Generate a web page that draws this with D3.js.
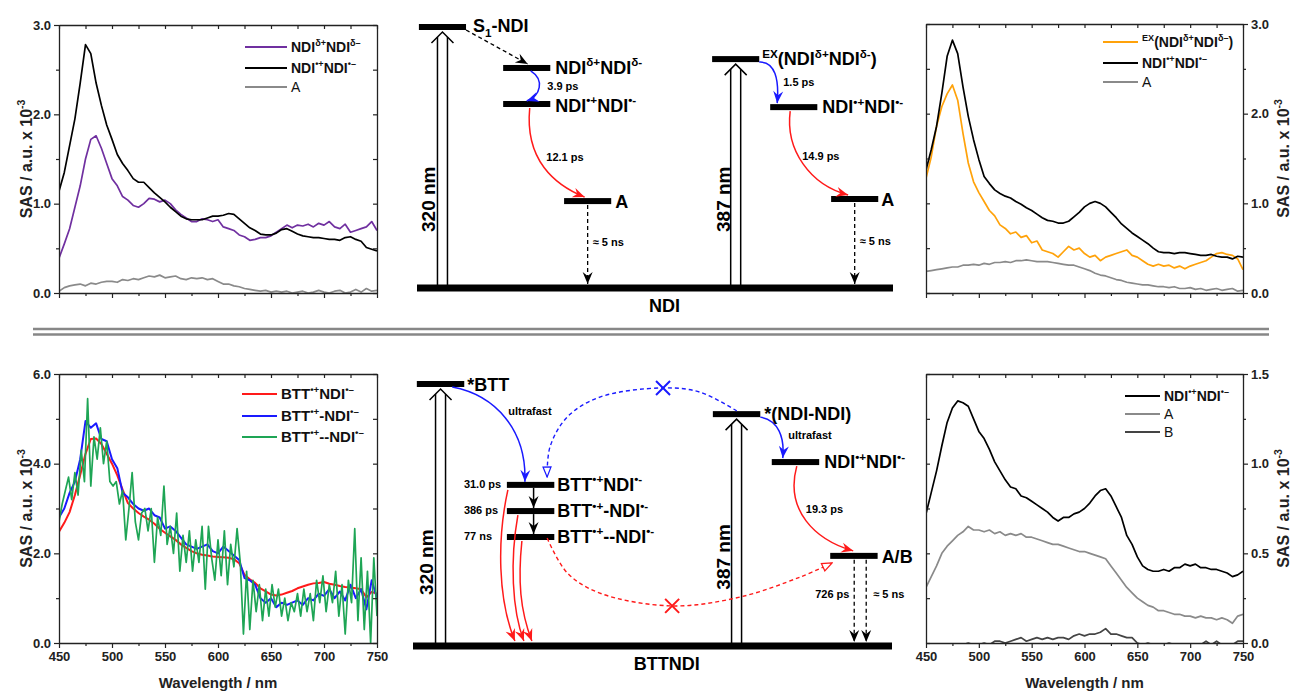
<!DOCTYPE html>
<html>
<head>
<meta charset="utf-8">
<script src="https://cdn.jsdelivr.net/npm/d3@7"></script>
<style>
  body { margin: 0; background: #fff; }
  svg { font-family: 'Liberation Sans', Arial, sans-serif; }
</style>
</head>
<body>
<svg id="fig" width="1291" height="692"></svg>
<script>
// ---- data ----
var wavelength = d3.range(450, 751, 5);      // 5 nm grid
var wavelengthFine = d3.range(450, 751, 3);  // 3 nm grid (noisy green trace)
var xTicks = [450, 500, 550, 600, 650, 700, 750];
var xMinor = [475, 525, 575, 625, 675, 725];

// top left : NDI
var tlDelta = [0.39,0.55,0.72,0.96,1.20,1.50,1.72,1.76,1.62,1.45,
               1.28,1.20,1.08,1.04,0.98,0.96,1.00,1.06,1.05,1.02,
               1.04,1.00,0.93,0.88,0.84,0.80,0.80,0.83,0.82,0.80,
               0.82,0.74,0.72,0.70,0.65,0.63,0.59,0.60,0.62,0.62,
               0.64,0.68,0.72,0.76,0.73,0.76,0.75,0.77,0.74,0.78,
               0.76,0.80,0.74,0.72,0.77,0.68,0.70,0.72,0.74,0.80,0.70];
var tlRadical = [1.14,1.35,1.65,1.95,2.35,2.78,2.68,2.35,2.10,1.88,
                 1.72,1.55,1.45,1.37,1.28,1.24,1.24,1.18,1.12,1.07,
                 1.02,0.96,0.91,0.86,0.83,0.82,0.82,0.82,0.84,0.86,
                 0.86,0.87,0.89,0.88,0.83,0.78,0.73,0.70,0.66,0.65,
                 0.65,0.67,0.71,0.72,0.69,0.66,0.64,0.63,0.62,0.62,
                 0.61,0.60,0.60,0.59,0.62,0.63,0.60,0.58,0.51,0.49,0.47];
var tlA = [0.02,0.06,0.08,0.09,0.10,0.08,0.11,0.10,0.12,0.13,
           0.13,0.12,0.15,0.14,0.16,0.15,0.17,0.19,0.18,0.20,
           0.17,0.18,0.19,0.16,0.15,0.17,0.16,0.17,0.15,0.16,
           0.13,0.10,0.10,0.08,0.07,0.05,0.04,0.03,0.02,0.03,
           0.01,0.02,0.01,0.02,0.00,0.01,0.02,0.00,0.01,0.03,
           0.01,0.00,0.02,0.03,0.00,0.01,0.04,0.01,0.05,0.02,0.03];

// top right : NDI (387 nm)
var trExciplex = [1.28,1.52,1.86,2.08,2.22,2.32,2.15,1.78,1.45,1.24,
                  1.12,1.02,0.92,0.86,0.76,0.72,0.66,0.68,0.62,0.64,
                  0.56,0.58,0.48,0.46,0.44,0.40,0.46,0.52,0.48,0.50,
                  0.44,0.40,0.42,0.36,0.40,0.42,0.44,0.46,0.48,0.42,
                  0.40,0.36,0.32,0.30,0.32,0.30,0.31,0.28,0.30,0.27,
                  0.30,0.32,0.34,0.36,0.40,0.44,0.45,0.43,0.42,0.38,0.26];
var trRadical = [1.37,1.60,1.86,2.23,2.64,2.82,2.67,2.30,1.97,1.71,
                 1.49,1.30,1.22,1.15,1.11,1.08,1.06,1.02,0.99,0.95,
                 0.92,0.88,0.84,0.81,0.80,0.78,0.78,0.80,0.85,0.90,
                 0.96,1.00,1.02,1.00,0.96,0.90,0.84,0.77,0.72,0.67,
                 0.63,0.59,0.55,0.50,0.46,0.45,0.45,0.44,0.45,0.45,
                 0.44,0.43,0.42,0.42,0.43,0.41,0.40,0.40,0.38,0.41,0.40];
var trA = [0.24,0.25,0.26,0.27,0.28,0.29,0.29,0.31,0.31,0.32,
           0.31,0.33,0.32,0.34,0.34,0.35,0.34,0.36,0.36,0.37,
           0.36,0.35,0.35,0.35,0.34,0.33,0.32,0.31,0.31,0.29,
           0.27,0.25,0.22,0.20,0.19,0.17,0.15,0.14,0.12,0.11,
           0.10,0.09,0.09,0.08,0.07,0.07,0.06,0.07,0.05,0.05,
           0.06,0.04,0.05,0.03,0.04,0.05,0.03,0.04,0.05,0.02,0.03];

// bottom left : BTTNDI
var blCT1 = [2.48,2.68,2.92,3.30,3.75,4.22,4.55,4.56,4.44,4.22,
             4.00,3.74,3.42,3.12,3.00,2.90,2.82,2.75,2.66,2.55,
             2.46,2.38,2.30,2.20,2.12,2.05,2.00,1.97,1.95,1.93,
             1.92,1.91,1.90,1.87,1.78,1.52,1.42,1.34,1.22,1.15,
             1.08,1.06,1.08,1.12,1.16,1.22,1.26,1.30,1.33,1.34,
             1.36,1.32,1.30,1.27,1.25,1.24,1.22,1.20,1.02,1.14,1.10];
var blCT2 = [2.80,3.00,3.35,3.60,4.10,4.95,4.80,4.90,4.55,4.50,
             4.10,3.90,3.35,3.25,3.10,3.00,2.95,3.00,2.85,2.80,
             2.55,2.60,2.50,2.35,2.20,2.15,2.10,2.15,2.20,2.05,
             2.00,2.15,2.05,1.95,1.85,1.45,1.40,1.30,1.00,0.90,
             1.00,0.80,0.90,0.85,0.90,0.95,0.85,1.00,0.95,1.10,
             1.05,1.20,1.00,1.15,0.95,1.30,1.00,1.20,0.75,1.40,1.00];
var blCT3 = [2.7,3.1,3.4,3.7,3.2,3.8,3.3,4.3,3.6,5.45,
             3.5,4.6,4.1,4.8,4.0,4.5,3.6,3.5,3.6,3.1,
             3.4,2.3,3.0,3.8,2.7,2.3,2.9,3.0,2.5,3.0,
             1.8,2.8,2.4,3.5,2.2,2.6,2.0,2.9,1.6,2.4,
             1.8,2.5,1.6,2.3,1.8,2.6,1.2,2.6,1.9,1.4,
             2.3,1.5,2.5,1.3,2.2,1.7,2.55,1.8,0.2,1.6,
             0.3,1.4,0.7,1.3,0.5,1.2,0.6,1.3,0.8,1.2,
             0.6,1.0,0.5,0.9,0.7,1.1,0.6,1.2,0.7,1.1,
             0.5,1.4,0.9,1.5,0.7,1.3,0.9,1.6,0.6,1.3,
             0.2,1.4,0.9,2.55,0.5,1.9,0.3,1.6,0.0,1.9,0.6];

// bottom right : BTTNDI (387 nm)
var brRadical = [0.72,0.84,0.96,1.10,1.23,1.31,1.35,1.34,1.32,1.25,
                 1.18,1.14,1.08,1.01,0.96,0.91,0.87,0.86,0.82,0.81,
                 0.79,0.77,0.75,0.73,0.70,0.68,0.70,0.70,0.72,0.73,
                 0.75,0.78,0.82,0.85,0.86,0.82,0.76,0.70,0.60,0.55,
                 0.48,0.43,0.41,0.40,0.40,0.41,0.40,0.42,0.42,0.44,
                 0.43,0.44,0.42,0.42,0.41,0.41,0.40,0.39,0.37,0.38,0.40];
var brA = [0.31,0.37,0.43,0.50,0.54,0.57,0.60,0.62,0.65,0.63,
           0.63,0.62,0.63,0.61,0.62,0.60,0.61,0.60,0.61,0.59,
           0.59,0.58,0.57,0.56,0.55,0.55,0.54,0.53,0.52,0.51,
           0.51,0.50,0.49,0.48,0.47,0.43,0.39,0.35,0.31,0.28,
           0.25,0.23,0.21,0.20,0.18,0.18,0.17,0.16,0.16,0.15,
           0.15,0.14,0.15,0.14,0.14,0.13,0.14,0.13,0.11,0.15,0.16];
var brB = [-0.02,-0.02,-0.01,-0.02,-0.01,-0.02,-0.01,-0.01,0.00,-0.01,
           -0.01,0.00,-0.01,0.01,0.01,0.00,0.01,0.02,0.03,0.01,
           0.02,0.03,0.02,0.03,0.02,0.03,0.03,0.02,0.04,0.05,
           0.04,0.05,0.05,0.06,0.08,0.05,0.05,0.04,0.03,0.03,
           0.00,-0.01,0.00,-0.01,-0.02,-0.01,0.00,-0.01,-0.02,-0.01,
           -0.01,-0.02,-0.01,0.01,-0.01,0.01,-0.01,-0.02,-0.01,0.01,0.01];

// energy-level schemes (x in 0-100 of scheme width, energy in 0-100 of scheme height)
var topLevelIds = ['S1', 'd', 'rp', 'A', 'EX', 'rp2', 'A2'];
var topLevelX0  = [0.4, 18.1, 18.1, 30.9, 62.0, 74.2, 87.0];
var topLevelE   = [100, 84.3, 70.5, 33.3, 87.7, 69.3, 34.1];
var botLevelIds = ['BTT', 'CT1', 'CT2', 'CT3', 'NN', 'rp', 'AB'];
var botLevelX0  = [0.8, 19.6, 19.6, 19.6, 62.6, 74.9, 87.1];
var botLevelE   = [100, 61.5, 51.5, 41.6, 88.5, 70.2, 34.4];
var blueArcPts = [[67.6,89.7],[59.9,96.9],[52.2,98.5],[39.0,95.0],[32.2,87.4],[28.6,76.0],[28.0,64.5]];
var redArcPts  = [[28.0,41.2],[32.2,27.9],[39.0,20.2],[54.1,15.3],[68.3,18.7],[80.8,26.3],[87.5,31.7]];

var svg = d3.select('#fig');
var defs = svg.append('defs');

function marker(id, color, open) {
  var m = defs.append('marker').attr('id', id)
    .attr('viewBox', '-13 -6 14 12').attr('refX', 0).attr('refY', 0)
    .attr('markerWidth', 14).attr('markerHeight', 12)
    .attr('markerUnits', 'userSpaceOnUse').attr('orient', 'auto');
  if (open) {
    m.append('path').attr('d', 'M0,0 L-10,-4 L-10,4 Z')
      .attr('fill', '#fff').attr('stroke', color).attr('stroke-width', 1.2);
  } else {
    m.append('path').attr('d', 'M0,0 L-12,-5 L-8,0 L-12,5 Z').attr('fill', color);
  }
}
marker('ah-black', '#000');
marker('ah-red', '#ff1a1a');
marker('ah-blue', '#1a1aff');
marker('ah-red-open', '#ff1a1a', true);
marker('ah-blue-open', '#1a1aff', true);

// text with super/subscripts: parts = ['txt', ['sup','sup'], ...]
function rich(sel, x, y, parts, size, weight) {
  var t = sel.append('text').attr('x', x).attr('y', y)
    .attr('font-size', size).attr('font-weight', weight || 'bold');
  var cur = 0;
  parts.forEach(function(p) {
    var part = (typeof p === 'string') ? [p, null] : p;
    var off = part[1] === 'sup' ? -size * 0.42 : part[1] === 'sub' ? size * 0.25 : 0;
    var ts = t.append('tspan').attr('dy', off - cur).text(part[0]);
    if (part[1]) ts.attr('font-size', size * 0.65);
    cur = off;
  });
  return t;
}

function styleAxis(sel) {
  sel.attr('font-family', null).attr('font-size', 13).attr('font-weight', 'bold');
  sel.selectAll('path.domain').attr('stroke', '#222').attr('stroke-width', 1.3);
  sel.selectAll('.tick line').attr('stroke', '#222').attr('stroke-width', 1.2);
  sel.selectAll('.tick text').attr('fill', '#222');
}
function noDomain(sel) { sel.select('path.domain').remove(); }

// ---- spectra panels ----
function drawPanel(cfg, idx) {
  var g = svg.append('g');
  var x = d3.scaleLinear().domain([450, 750]).range([cfg.left, cfg.right]);
  var y = d3.scaleLinear().domain(cfg.yDomain).range([cfg.bottom, cfg.top]);

  defs.append('clipPath').attr('id', 'clip' + idx)
    .append('rect').attr('x', cfg.left).attr('y', cfg.top)
    .attr('width', cfg.right - cfg.left).attr('height', cfg.bottom - cfg.top);

  var plot = g.append('g').attr('clip-path', 'url(#clip' + idx + ')');
  cfg.series.forEach(function(s) {
    var xs = s.xs || wavelength;
    var line = d3.line()
      .x(function(d, i) { return x(xs[i]); })
      .y(function(d) { return y(d); });
    plot.append('path').datum(s.values)
      .attr('fill', 'none').attr('stroke', s.color)
      .attr('stroke-width', s.width || 1.7)
      .attr('stroke-linejoin', 'round')
      .attr('d', line);
  });

  // x axes (bottom main + minor, top mirrored inward)
  g.append('g').attr('transform', 'translate(0,' + cfg.bottom + ')')
    .call(d3.axisBottom(x).tickValues(xTicks).tickSize(5).tickSizeOuter(0).tickPadding(4)
      .tickFormat(cfg.xLabels ? d3.format('d') : ''))
    .call(styleAxis);
  g.append('g').attr('transform', 'translate(0,' + cfg.bottom + ')')
    .call(d3.axisBottom(x).tickValues(xMinor).tickSize(3).tickFormat(''))
    .call(noDomain).call(styleAxis);
  g.append('g').attr('transform', 'translate(0,' + cfg.top + ')')
    .call(d3.axisBottom(x).tickValues(xTicks.concat(xMinor)).tickSize(4).tickSizeOuter(0).tickFormat(''))
    .call(styleAxis);

  // y axes
  var left = cfg.ySide === 'left';
  var mainX = left ? cfg.left : cfg.right;
  var oppX = left ? cfg.right : cfg.left;
  var mk = left ? d3.axisLeft : d3.axisRight;
  var opp = left ? d3.axisLeft : d3.axisRight;
  g.append('g').attr('transform', 'translate(' + mainX + ',0)')
    .call(mk(y).tickValues(cfg.yTicks).tickSize(5).tickSizeOuter(0).tickPadding(3)
      .tickFormat(d3.format('.1f')))
    .call(styleAxis);
  g.append('g').attr('transform', 'translate(' + mainX + ',0)')
    .call(mk(y).tickValues(cfg.yMinor).tickSize(3).tickFormat(''))
    .call(noDomain).call(styleAxis);
  g.append('g').attr('transform', 'translate(' + oppX + ',0)')
    .call(opp(y).tickValues(cfg.yTicks.concat(cfg.yMinor)).tickSize(4).tickSizeOuter(0).tickFormat(''))
    .call(styleAxis);

  // y title
  var ty = rich(g, 0, 0, ['SAS / a.u. x 10', ['-3', 'sup']], 16);
  ty.attr('text-anchor', 'middle').attr('fill', '#222')
    .attr('transform', 'translate(' + cfg.yTitleX + ',' + ((cfg.top + cfg.bottom) / 2) + ') rotate(-90)');

  if (cfg.xLabels) {
    g.append('text').attr('x', (cfg.left + cfg.right) / 2).attr('y', cfg.bottom + 45)
      .attr('text-anchor', 'middle').attr('font-size', 15).attr('font-weight', 'bold')
      .attr('fill', '#222').text('Wavelength / nm');
  }

  // legend
  var lg = cfg.legend;
  cfg.series.forEach(function(s, i) {
    var ly = lg.ys[i];
    g.append('line').attr('x1', lg.x0).attr('x2', lg.x1).attr('y1', ly).attr('y2', ly)
      .attr('stroke', s.color).attr('stroke-width', 2);
    rich(g, lg.x1 + 4, ly + 5, s.label, lg.size, s.labelWeight || 'bold').attr('fill', '#111');
  });
}

var radicalLabel = ['NDI', ['\u2022+', 'sup'], 'NDI', ['\u2022\u2013', 'sup']];
var deltaLabel = ['NDI', ['\u03b4+', 'sup'], 'NDI', ['\u03b4\u2013', 'sup']];

drawPanel({
  left: 59, right: 377, top: 25, bottom: 293, yDomain: [0, 3],
  yTicks: [0, 1, 2, 3], yMinor: [0.5, 1.5, 2.5], ySide: 'left', yTitleX: 32, xLabels: false,
  series: [
    { values: tlDelta, color: '#7030a0', label: deltaLabel },
    { values: tlRadical, color: '#000', label: radicalLabel },
    { values: tlA, color: '#8a8a8a', label: ['A'], labelWeight: 'normal' }
  ],
  legend: { x0: 245, x1: 287, ys: [47, 68, 87], size: 14 }
}, 0);

drawPanel({
  left: 926, right: 1243, top: 24, bottom: 293, yDomain: [0, 3],
  yTicks: [0, 1, 2, 3], yMinor: [0.5, 1.5, 2.5], ySide: 'right', yTitleX: 1289, xLabels: false,
  series: [
    { values: trExciplex, color: '#ffa20a',
      label: [['EX', 'sup'], '(NDI', ['\u03b4+', 'sup'], 'NDI', ['\u03b4\u2013', 'sup'], ')'] },
    { values: trRadical, color: '#000', label: radicalLabel },
    { values: trA, color: '#8a8a8a', label: ['A'], labelWeight: 'normal' }
  ],
  legend: { x0: 1103, x1: 1138, ys: [42, 63, 82], size: 14 }
}, 1);

drawPanel({
  left: 59, right: 377, top: 374, bottom: 643, yDomain: [0, 6],
  yTicks: [0, 2, 4, 6], yMinor: [1, 3, 5], ySide: 'left', yTitleX: 32, xLabels: true,
  series: [
    { values: blCT1, color: '#ff1a1a', width: 2, label: ['BTT', ['\u2022+', 'sup'], 'NDI', ['\u2022\u2013', 'sup']] },
    { values: blCT2, color: '#1a1aff', width: 2, label: ['BTT', ['\u2022+', 'sup'], '-NDI', ['\u2022\u2013', 'sup']] },
    { values: blCT3, xs: wavelengthFine, color: '#1ea555', width: 1.7, label: ['BTT', ['\u2022+', 'sup'], '--NDI', ['\u2022\u2013', 'sup']] }
  ],
  legend: { x0: 242, x1: 277, ys: [394, 416, 437], size: 15 }
}, 2);

drawPanel({
  left: 926, right: 1243, top: 374, bottom: 643, yDomain: [0, 1.5],
  yTicks: [0, 0.5, 1, 1.5], yMinor: [0.25, 0.75, 1.25], ySide: 'right', yTitleX: 1289, xLabels: true,
  series: [
    { values: brRadical, color: '#000', label: radicalLabel },
    { values: brA, color: '#8a8a8a', label: ['A'], labelWeight: 'normal' },
    { values: brB, color: '#444', label: ['B'], labelWeight: 'normal' }
  ],
  legend: { x0: 1125, x1: 1160, ys: [396, 414, 432], size: 14 }
}, 3);

// ---- separator ----
[329, 334.5].forEach(function(yy) {
  svg.append('line').attr('x1', 33).attr('x2', 1269).attr('y1', yy).attr('y2', yy)
    .attr('stroke', '#878787').attr('stroke-width', 2.6);
});

// ---- energy level schemes ----
function levels(ids, x0s, es, xs, ys) {
  var L = {};
  ids.forEach(function(id, i) {
    L[id] = { xa: xs(x0s[i]), xb: xs(x0s[i] + 9.9), cx: xs(x0s[i] + 4.95), y: ys(es[i]) };
  });
  return L;
}
function bars(g, L, xs, ys) {
  Object.keys(L).forEach(function(k) {
    var l = L[k];
    g.append('rect').attr('x', l.xa).attr('y', l.y - 3).attr('width', l.xb - l.xa).attr('height', 6).attr('fill', '#000');
  });
  g.append('rect').attr('x', xs(0)).attr('y', ys(0) - 3.5).attr('width', xs(100) - xs(0)).attr('height', 7).attr('fill', '#000');
}
function excite(g, cx, yTop, yBot) {
  g.append('line').attr('x1', cx - 5).attr('x2', cx - 5).attr('y1', yBot).attr('y2', yTop + 5).attr('stroke', '#000').attr('stroke-width', 1.5);
  g.append('line').attr('x1', cx + 5).attr('x2', cx + 5).attr('y1', yBot).attr('y2', yTop + 5).attr('stroke', '#000').attr('stroke-width', 1.5);
  g.append('path').attr('d', 'M' + (cx - 11) + ',' + (yTop + 11) + ' L' + cx + ',' + yTop + ' L' + (cx + 11) + ',' + (yTop + 11))
    .attr('fill', 'none').attr('stroke', '#000').attr('stroke-width', 1.5);
}
function arrow(g, d, color, mk, dash, w) {
  var p = g.append('path').attr('d', d).attr('fill', 'none').attr('stroke', color)
    .attr('stroke-width', w || 1.5).attr('marker-end', 'url(#' + mk + ')');
  if (dash) p.attr('stroke-dasharray', dash);
  return p;
}
function label(g, x, y, txt, size, anchor) {
  return g.append('text').attr('x', x).attr('y', y).attr('font-size', size)
    .attr('font-weight', 'bold').attr('text-anchor', anchor || 'start').text(txt);
}
function rotLabel(g, x, y, txt) {
  g.append('text').attr('transform', 'translate(' + x + ',' + y + ') rotate(-90)')
    .attr('text-anchor', 'middle').attr('font-size', 19).attr('font-weight', 'bold').text(txt);
}
function cross(g, x, y, color) {
  g.append('path').attr('d', 'M' + (x - 7) + ',' + (y - 7) + ' L' + (x + 7) + ',' + (y + 7) + ' M' + (x + 7) + ',' + (y - 7) + ' L' + (x - 7) + ',' + (y + 7))
    .attr('stroke', color).attr('stroke-width', 2);
}

// top scheme: NDI
(function() {
  var g = svg.append('g');
  var xs = d3.scaleLinear().domain([0, 100]).range([417, 893]);
  var ys = d3.scaleLinear().domain([0, 100]).range([288, 27]);
  var L = levels(topLevelIds, topLevelX0, topLevelE, xs, ys);
  var gy = ys(0);
  bars(g, L, xs, ys);
  excite(g, L.S1.cx, L.S1.y + 5, gy - 3);
  excite(g, L.EX.cx, L.EX.y + 5, gy - 3);

  arrow(g, 'M' + L.S1.xb + ',' + (L.S1.y + 3) + ' L' + (L.d.cx + 1) + ',' + (L.d.y - 4), '#000', 'ah-black', '4,3', 1.3);
  arrow(g, 'M' + (L.d.cx + 4) + ',' + (L.d.y + 3) + ' C' + (L.d.cx + 18) + ',' + (L.d.y + 12) + ' ' + (L.rp.cx + 14) + ',' + (L.rp.y - 8) + ' ' + L.rp.cx + ',' + (L.rp.y - 3), '#1a1aff', 'ah-blue');
  arrow(g, 'M' + (L.rp.cx + 3) + ',' + (L.rp.y + 4) + ' C' + (L.rp.cx - 2) + ',' + (L.rp.y + 56) + ' ' + (L.A.cx - 33) + ',' + (L.A.y - 16) + ' ' + (L.A.cx - 3) + ',' + (L.A.y - 4), '#ff1a1a', 'ah-red');
  arrow(g, 'M' + L.A.cx + ',' + (L.A.y + 4) + ' L' + L.A.cx + ',' + (gy - 4), '#000', 'ah-black', '4,3', 1.3);
  arrow(g, 'M' + L.EX.xb + ',' + (L.EX.y + 3) + ' C' + (L.EX.xb + 16) + ',' + (L.EX.y + 2) + ' ' + (L.rp2.xa + 9) + ',' + (L.rp2.y - 27) + ' ' + (L.rp2.xa + 7) + ',' + (L.rp2.y - 4), '#1a1aff', 'ah-blue');
  arrow(g, 'M' + (L.rp2.xa + 20) + ',' + (L.rp2.y + 4) + ' C' + (L.rp2.xa + 15) + ',' + (L.rp2.y + 43) + ' ' + (L.rp2.xa + 40) + ',' + (L.A2.y - 14) + ' ' + (L.A2.xa + 17) + ',' + (L.A2.y - 4), '#ff1a1a', 'ah-red');
  arrow(g, 'M' + L.A2.cx + ',' + (L.A2.y + 4) + ' L' + L.A2.cx + ',' + (gy - 4), '#000', 'ah-black', '4,3', 1.3);

  rich(g, L.S1.xb + 7, L.S1.y + 5, ['S', ['1', 'sub'], '-NDI'], 18);
  rich(g, L.d.xb + 5, L.d.y + 6, ['NDI', ['\u03b4+', 'sup'], 'NDI', ['\u03b4-', 'sup']], 18);
  label(g, L.d.xb - 3, L.d.y + 22, '3.9 ps', 11);
  rich(g, L.rp.xb + 5, L.rp.y + 8, ['NDI', ['\u2022+', 'sup'], 'NDI', ['\u2022-', 'sup']], 18);
  label(g, L.rp.xb - 4, L.rp.y + 57, '12.1 ps', 11);
  label(g, L.A.xb + 4, L.A.y + 7, 'A', 18);
  label(g, L.A.cx + 5, L.A.y + 45, '\u2248 5 ns', 11);
  rich(g, L.EX.xb + 3, L.EX.y + 6, [['EX', 'sup'], '(NDI', ['\u03b4+', 'sup'], 'NDI', ['\u03b4-', 'sup'], ')'], 18);
  label(g, L.EX.xb + 24, L.EX.y + 27, '1.5 ps', 11);
  rich(g, L.rp2.xb + 5, L.rp2.y + 6, ['NDI', ['\u2022+', 'sup'], 'NDI', ['\u2022-', 'sup']], 18);
  label(g, L.rp2.xa + 32, L.rp2.y + 53, '14.9 ps', 11);
  label(g, L.A2.xb + 3, L.A2.y + 7, 'A', 18);
  label(g, L.A2.cx + 5, L.A2.y + 46, '\u2248 5 ns', 11);
  rotLabel(g, L.S1.cx - 7, ys(34), '320 nm');
  rotLabel(g, L.EX.cx - 6, ys(34), '387 nm');
  label(g, xs(52), gy + 24, 'NDI', 18, 'middle');
})();

// bottom scheme: BTTNDI
(function() {
  var g = svg.append('g');
  var xs = d3.scaleLinear().domain([0, 100]).range([413, 892]);
  var ys = d3.scaleLinear().domain([0, 100]).range([646, 384]);
  var L = levels(botLevelIds, botLevelX0, botLevelE, xs, ys);
  var gy = ys(0);
  bars(g, L, xs, ys);
  excite(g, L.BTT.cx, L.BTT.y + 5, gy - 3);
  excite(g, L.NN.cx, L.NN.y + 5, gy - 3);

  var arc = d3.line().x(function(d) { return xs(d[0]); }).y(function(d) { return ys(d[1]); }).curve(d3.curveCatmullRom);
  arrow(g, arc(blueArcPts), '#1a1aff', 'ah-blue-open', '4,3', 1.4);
  arrow(g, arc(redArcPts), '#ff1a1a', 'ah-red-open', '4,3', 1.4);
  cross(g, xs(blueArcPts[2][0]), ys(blueArcPts[2][1]), '#1a1aff');
  cross(g, xs(redArcPts[3][0]), ys(redArcPts[3][1]), '#ff1a1a');

  arrow(g, 'M' + (L.BTT.xb - 12) + ',' + (L.BTT.y + 3) + ' C' + (L.BTT.xb + 31) + ',' + (L.BTT.y + 11) + ' ' + (L.CT1.xa + 20) + ',' + (L.CT1.y - 55) + ' ' + (L.CT1.xa + 18) + ',' + (L.CT1.y - 3), '#1a1aff', 'ah-blue');
  arrow(g, 'M' + (L.CT1.cx + 3) + ',' + (L.CT1.y + 3) + ' L' + (L.CT1.cx + 3) + ',' + (L.CT2.y - 3), '#000', 'ah-black', null, 1.5);
  arrow(g, 'M' + (L.CT2.cx + 3) + ',' + (L.CT2.y + 3) + ' L' + (L.CT2.cx + 3) + ',' + (L.CT3.y - 3), '#000', 'ah-black', null, 1.5);

  arrow(g, 'M' + (L.CT1.xa + 1) + ',' + (L.CT1.y + 5) + ' C' + (L.CT1.xa - 10) + ',' + (L.CT1.y + 55) + ' ' + (L.CT1.xa - 9) + ',' + (gy - 46) + ' ' + (L.CT1.xa + 8) + ',' + (gy - 5), '#ff1a1a', 'ah-red');
  arrow(g, 'M' + (L.CT2.xa + 11) + ',' + (L.CT2.y + 4) + ' C' + (L.CT2.xa + 3) + ',' + (L.CT2.y + 49) + ' ' + (L.CT2.xa + 5) + ',' + (gy - 36) + ' ' + (L.CT2.xa + 17) + ',' + (gy - 5), '#ff1a1a', 'ah-red');
  arrow(g, 'M' + (L.CT3.xa + 15) + ',' + (L.CT3.y + 4) + ' C' + (L.CT3.xa + 11) + ',' + (L.CT3.y + 43) + ' ' + (L.CT3.xa + 13) + ',' + (gy - 36) + ' ' + (L.CT3.xa + 25) + ',' + (gy - 5), '#ff1a1a', 'ah-red');

  arrow(g, 'M' + L.NN.xb + ',' + (L.NN.y + 3) + ' C' + (L.NN.xb + 18) + ',' + (L.NN.y + 6) + ' ' + (L.rp.xa + 13) + ',' + (L.rp.y - 25) + ' ' + (L.rp.xa + 11) + ',' + (L.rp.y - 4), '#1a1aff', 'ah-blue');
  arrow(g, 'M' + (L.rp.xa + 25) + ',' + (L.rp.y + 4) + ' C' + (L.rp.xa + 13) + ',' + (L.rp.y + 48) + ' ' + (L.rp.xa + 43) + ',' + (L.AB.y - 16) + ' ' + (L.AB.xa + 23) + ',' + (L.AB.y - 5), '#ff1a1a', 'ah-red');
  arrow(g, 'M' + (L.AB.xa + 24) + ',' + (L.AB.y + 4) + ' L' + (L.AB.xa + 24) + ',' + (gy - 4), '#000', 'ah-black', '4,3', 1.3);
  arrow(g, 'M' + (L.AB.xa + 36) + ',' + (L.AB.y + 4) + ' L' + (L.AB.xa + 36) + ',' + (gy - 4), '#000', 'ah-black', '4,3', 1.3);

  label(g, L.BTT.xb + 3, L.BTT.y + 7, '*BTT', 18);
  label(g, L.BTT.xb + 44, L.BTT.y + 31, 'ultrafast', 11);
  rich(g, L.CT1.xb + 3, L.CT1.y + 6, ['BTT', ['\u2022+', 'sup'], 'NDI', ['\u2022-', 'sup']], 18);
  rich(g, L.CT2.xb + 3, L.CT2.y + 6, ['BTT', ['\u2022+', 'sup'], '-NDI', ['\u2022-', 'sup']], 18);
  rich(g, L.CT3.xb + 3, L.CT3.y + 6, ['BTT', ['\u2022+', 'sup'], '--NDI', ['\u2022-', 'sup']], 18);
  label(g, L.CT1.xa - 43, L.CT1.y + 3, '31.0 ps', 11);
  label(g, L.CT2.xa - 43, L.CT2.y + 3, '386 ps', 11);
  label(g, L.CT3.xa - 43, L.CT3.y + 3, '77 ns', 11);
  label(g, L.NN.xb + 4, L.NN.y + 6, '*(NDI-NDI)', 18);
  label(g, L.NN.xb + 28, L.NN.y + 25, 'ultrafast', 11);
  rich(g, L.rp.xb + 5, L.rp.y + 6, ['NDI', ['\u2022+', 'sup'], 'NDI', ['\u2022-', 'sup']], 18);
  label(g, L.rp.xa + 34, L.rp.y + 51, '19.3 ps', 11);
  label(g, L.AB.xb + 4, L.AB.y + 7, 'A/B', 18);
  label(g, L.AB.xa - 15, L.AB.y + 42, '726 ps', 11);
  label(g, L.AB.xa + 43, L.AB.y + 42, '\u2248 5 ns', 11);
  rotLabel(g, L.BTT.cx - 8, ys(32), '320 nm');
  rotLabel(g, L.NN.cx - 7, ys(34), '387 nm');
  label(g, xs(53), gy + 24, 'BTTNDI', 18, 'middle');
})();
</script>
</body>
</html>
